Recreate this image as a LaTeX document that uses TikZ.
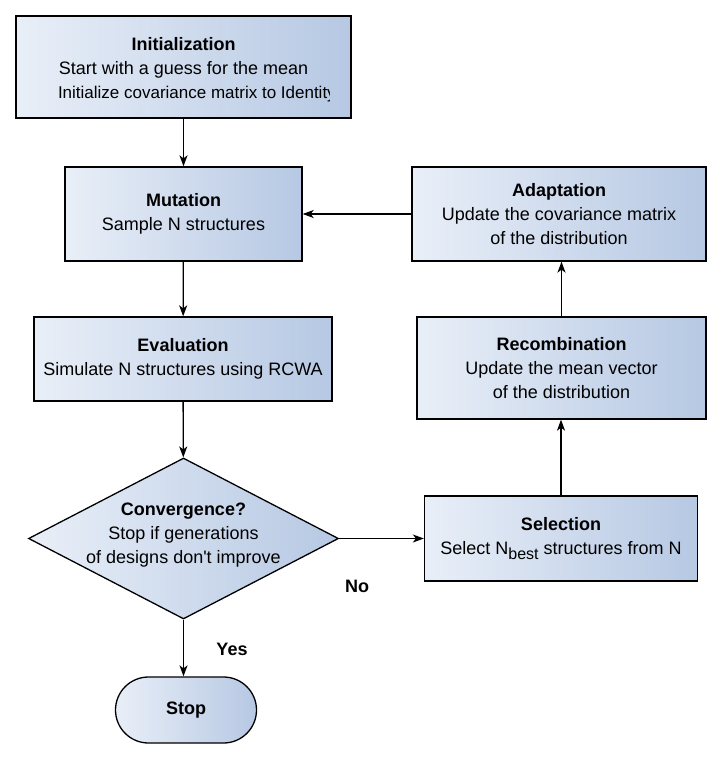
\documentclass[tikz,border=0pt]{standalone}
\usepackage{fontspec}
\setmainfont{Liberation Sans}[Ligatures=TeXOff]
\usetikzlibrary{arrows.meta,shapes.geometric}
\definecolor{boxL}{RGB}{233,239,248}
\definecolor{boxR}{RGB}{182,200,227}
\newcommand\Nbest{N\raisebox{-5pt}{\fontsize{16}{16}\selectfont best}}
\begin{document}
\begin{tikzpicture}[x=1pt,y=-1pt,
  every node/.style={font=\fontsize{18}{24}\selectfont},
  blk/.style={draw=black, line width=1.3pt, left color=boxL, right color=boxR,
              align=center, inner sep=0pt},
  conn/.style={line width=1.3pt, -{Stealth[length=11pt,width=8pt,inset=3pt]}},
  lbl/.style={font=\fontsize{18}{24}\selectfont\bfseries}
]
\fill[white] (0,0) rectangle (726,759);
\useasboundingbox (0,0) rectangle (726,759);

% left column
\node[blk, minimum width=335pt, minimum height=102pt] (init) at (183.5,67) {};
\begin{scope}
  % the last line overflows the label area and is cut off at its edge
  \clip (17,17) rectangle (329,117);
  \node[align=center, inner sep=0pt] (inittext) at (183.5,70)
    {\textbf{Initialization}\\Start with a guess for the mean\\
     \makebox[251pt][l]{\fontsize{17}{24}\selectfont Initialize covariance matrix to Identity}};
\end{scope}

\node[blk, minimum width=237pt, minimum height=94pt] (mut) at (183.5,214)
  {\textbf{Mutation}\\Sample N structures};
\node[blk, minimum width=298pt, minimum height=84pt] (eval) at (183,359)
  {\textbf{Evaluation}\\Simulate N structures using RCWA};
\node[blk, diamond, aspect=1.925, minimum width=310pt, minimum height=161pt] (conv) at (183.5,538.5) {};
\node[align=center, inner sep=0pt] (convtext) at (183.5,535)
  {\textbf{Convergence?}\\Stop if generations\\of designs don't improve};
\node[blk, rounded corners=33pt, minimum width=141pt, minimum height=66pt] (stop) at (186,710)
  {\textbf{Stop}};

% right column
\node[blk, minimum width=273pt, minimum height=85pt] (sel) at (561,538.5)
  {\textbf{Selection}\\Select \Nbest{} structures from N};
\node[blk, minimum width=289pt, minimum height=102pt] (rec) at (561.5,368)
  {\textbf{Recombination}\\Update the mean vector\\of the distribution};
\node[blk, minimum width=294pt, minimum height=94pt] (adapt) at (559,214)
  {\textbf{Adaptation}\\Update the covariance matrix\\of the distribution};

% connectors
\draw[conn] (init) -- (mut);
\draw[conn] (mut) -- (eval);
\draw[conn] (eval) -- (conv);
\draw[conn] (conv.south) -- (conv.south |- stop.north);
\draw[conn] (conv.east) -- (sel.west |- conv.east);
\draw[conn] (sel.north) -- (sel.north |- rec.south);
\draw[conn] (rec.north) -- (rec.north |- adapt.south);
\draw[conn] (adapt.west) -- (mut.east |- adapt.west);

% branch labels
\node[lbl] (nolbl) at (357,586) {No};
\node[lbl] (yeslbl) at (232,649) {Yes};
\end{tikzpicture}
\end{document}
